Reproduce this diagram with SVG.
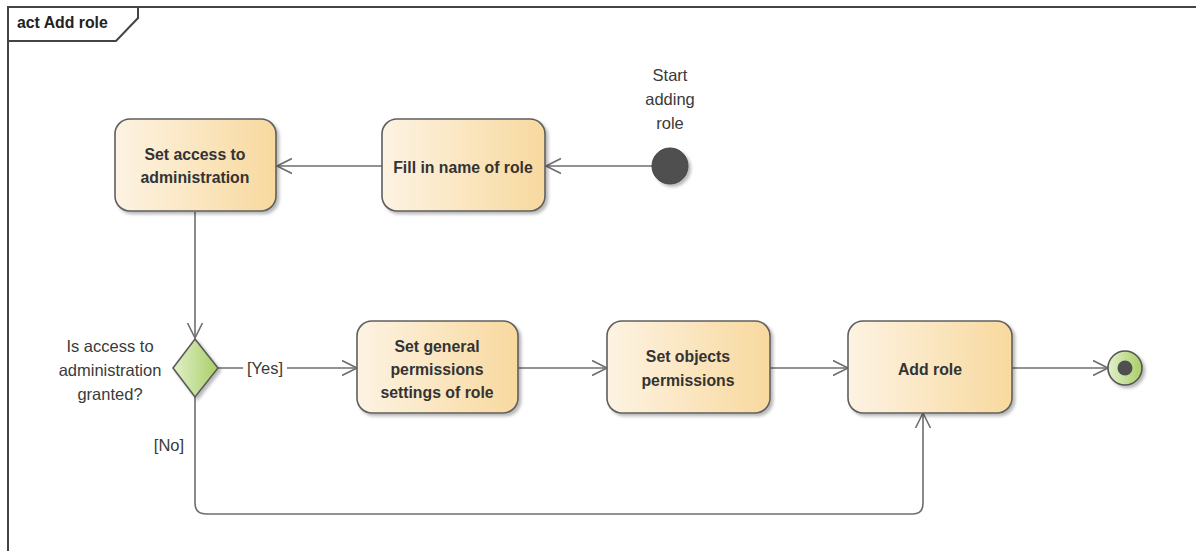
<svg xmlns="http://www.w3.org/2000/svg" width="1196" height="551" viewBox="0 0 1196 551">
<defs>
<style>
.frame{fill:none;stroke:#444;stroke-width:2}
.act{stroke:#5f5f5f;stroke-width:1.6;filter:url(#sh)}
.lbl{font-family:"Liberation Sans",Arial,sans-serif;font-size:15.8px;font-weight:bold;fill:#333;text-anchor:middle}
.txt{font-family:"Liberation Sans",Arial,sans-serif;font-size:16.5px;fill:#3a3a3a;text-anchor:middle}
.conn{fill:none;stroke:#6e6e6e;stroke-width:1.6}
</style>
<linearGradient id="ag" x1="0" y1="0" x2="1" y2="0">
<stop offset="0" stop-color="#fdf3e3"/>
<stop offset="1" stop-color="#f8d99e"/>
</linearGradient>
<linearGradient id="gg" x1="0" y1="0" x2="1" y2="0">
<stop offset="0" stop-color="#e2efcb"/>
<stop offset="1" stop-color="#a8cf66"/>
</linearGradient>
<filter id="sh" x="-10%" y="-10%" width="130%" height="130%">
<feDropShadow dx="2.5" dy="2.5" stdDeviation="1.5" flood-color="#000" flood-opacity="0.28"/>
</filter>
<marker id="arr" markerUnits="userSpaceOnUse" markerWidth="18" markerHeight="18" refX="15" refY="8" orient="auto" viewBox="0 0 18 16">
<path d="M0,0.5 L15,8 L0,15.5" fill="none" stroke="#6e6e6e" stroke-width="1.6"/>
</marker>
</defs>
<rect width="1196" height="551" fill="#fff"/>
<g id="frame">
<path class="frame" d="M8,551 L8,7 L1196,7"/>
<path class="frame" d="M8,41 L116,41 L138,18 L138,7"/>
<text x="17" y="28" style="font-family:'Liberation Sans',Arial,sans-serif;font-size:15.8px;font-weight:bold;fill:#222">act Add role</text>
</g>
<g id="connectors">
<line class="conn" x1="652" y1="166" x2="546" y2="166" marker-end="url(#arr)"/>
<line class="conn" x1="382" y1="166" x2="277" y2="166" marker-end="url(#arr)"/>
<line class="conn" x1="195" y1="212" x2="195" y2="338" marker-end="url(#arr)"/>
<line class="conn" x1="218" y1="368" x2="357" y2="368" marker-end="url(#arr)"/>
<line class="conn" x1="518" y1="368" x2="607" y2="368" marker-end="url(#arr)"/>
<line class="conn" x1="770" y1="368" x2="848" y2="368" marker-end="url(#arr)"/>
<line class="conn" x1="1012" y1="368" x2="1108" y2="368" marker-end="url(#arr)"/>
<path class="conn" d="M195,397 L195,503 Q195,514 206,514 L913,514 Q923,514 923,503 L923,413" marker-end="url(#arr)"/>
<rect x="243" y="358" width="44" height="20" fill="#fff"/>
<text class="txt" x="265" y="374">[Yes]</text>
<text class="txt" x="169" y="451">[No]</text>
</g>
<g id="start">
<circle cx="670" cy="166" r="18" fill="#4f4f4f" stroke="#444" stroke-width="1" filter="url(#sh)"/>
<text class="txt" x="670" y="81">Start</text>
<text class="txt" x="670" y="105">adding</text>
<text class="txt" x="670" y="129">role</text>
</g>
<g id="fill-name">
<rect class="act" x="382" y="119" width="163" height="92" rx="15" fill="url(#ag)"/>
<text class="lbl" x="463" y="173">Fill in name of role</text>
</g>
<g id="set-access">
<rect class="act" x="115" y="119" width="161" height="92" rx="15" fill="url(#ag)"/>
<text class="lbl" x="195" y="160">Set access to</text>
<text class="lbl" x="195" y="183">administration</text>
</g>
<g id="decision">
<polygon points="195,339 218,368 195,397 173,368" fill="url(#gg)" stroke="#5a5a5a" stroke-width="1.6" filter="url(#sh)"/>
<text class="txt" x="110" y="352">Is access to</text>
<text class="txt" x="110" y="376">administration</text>
<text class="txt" x="110" y="400">granted?</text>
</g>
<g id="set-general">
<rect class="act" x="357" y="321" width="161" height="92" rx="15" fill="url(#ag)"/>
<text class="lbl" x="437" y="352">Set general</text>
<text class="lbl" x="437" y="375">permissions</text>
<text class="lbl" x="437" y="398">settings of role</text>
</g>
<g id="set-objects">
<rect class="act" x="607" y="321" width="163" height="92" rx="15" fill="url(#ag)"/>
<text class="lbl" x="688" y="362">Set objects</text>
<text class="lbl" x="688" y="386">permissions</text>
</g>
<g id="add-role">
<rect class="act" x="848" y="321" width="164" height="92" rx="15" fill="url(#ag)"/>
<text class="lbl" x="930" y="375">Add role</text>
</g>
<g id="end">
<circle cx="1125" cy="368" r="17" fill="url(#gg)" stroke="#555" stroke-width="1.6" filter="url(#sh)"/>
<circle cx="1125" cy="368" r="7.5" fill="#4f4f4f"/>
</g>
</svg>
